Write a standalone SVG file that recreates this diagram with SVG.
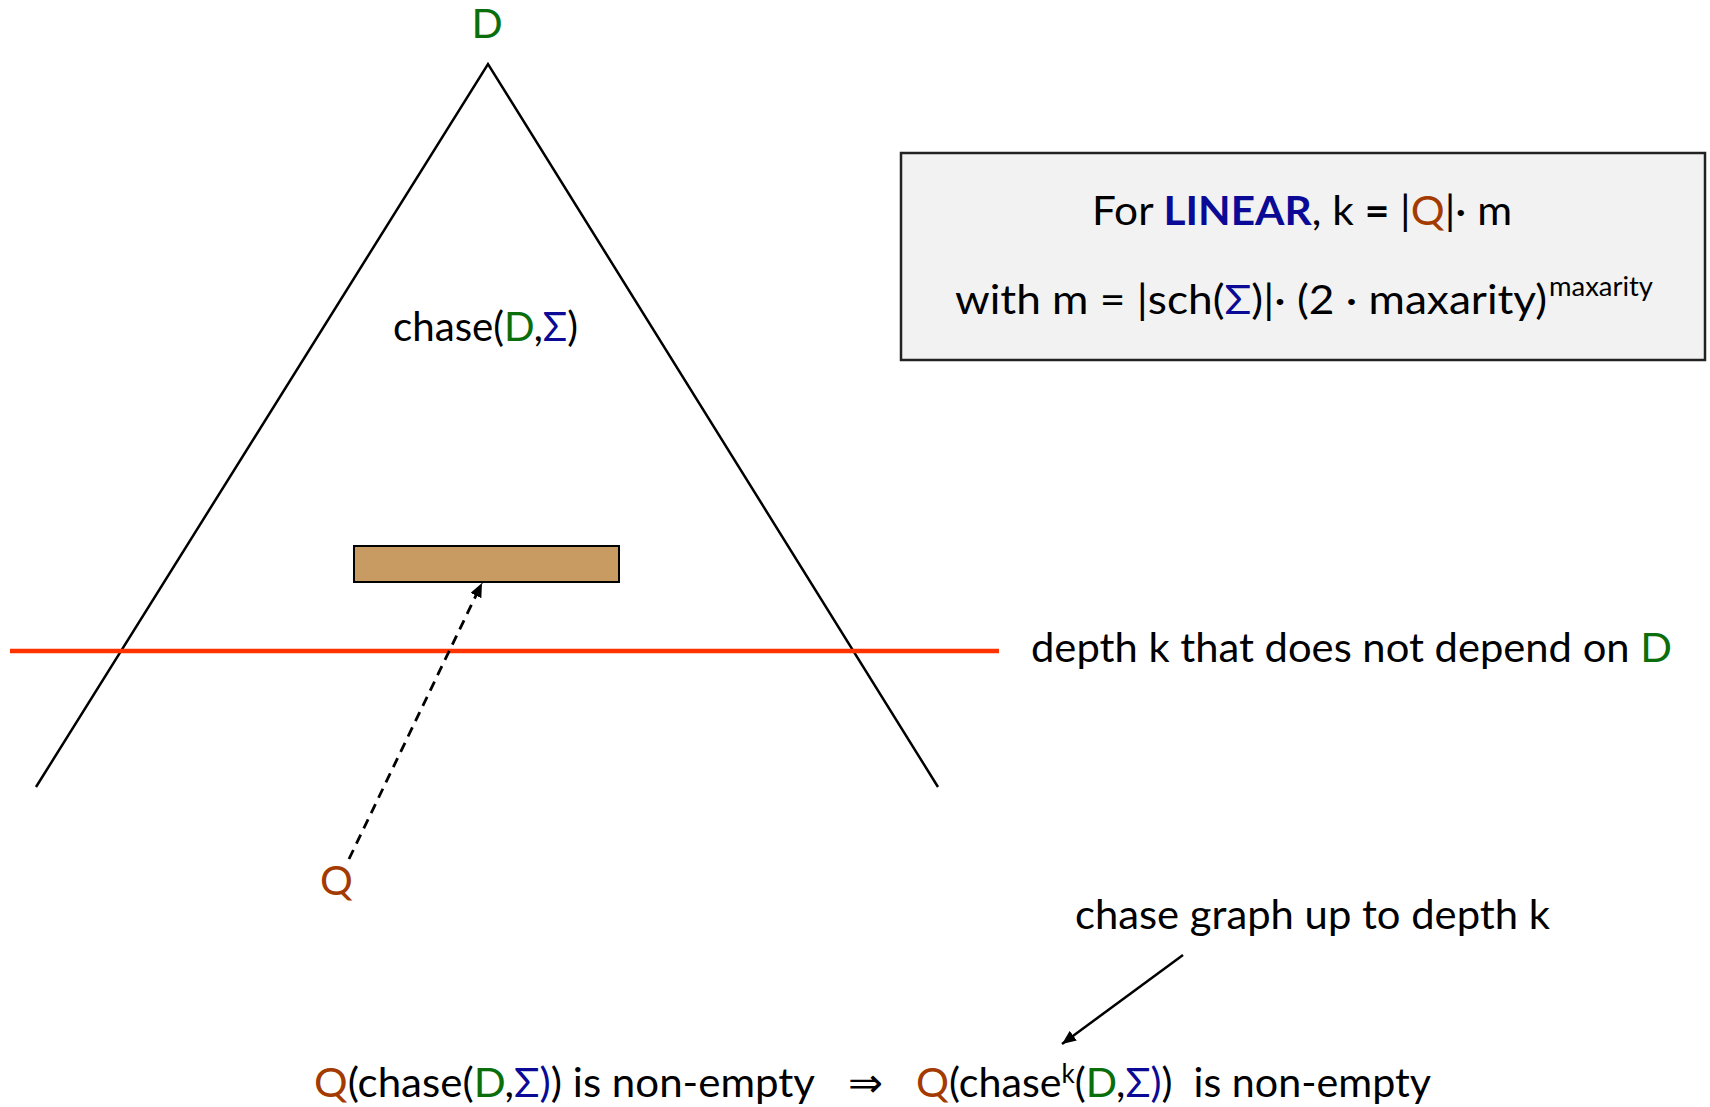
<svg xmlns="http://www.w3.org/2000/svg" width="1710" height="1107" viewBox="0 0 1710 1107">
<defs>
<style>
text{font-family:Lato,"Noto Sans","DejaVu Sans",sans-serif;font-size:41px;fill:#000}
.g{fill:#0a6e0a}.b{fill:#0a0a96}.q{fill:#a33b00}
.bold{font-weight:bold}
.sup{font-size:26px}
</style>
<marker id="ah" viewBox="0 0 14 12" refX="14" refY="6" markerWidth="14" markerHeight="12" markerUnits="userSpaceOnUse" orient="auto">
<path d="M0,0 L14,6 L0,12 Z" fill="#000"/>
</marker>
</defs>
<rect width="1710" height="1107" fill="#fff"/>

<g id="tree">
<polyline points="36,787 488,64 938,787" fill="none" stroke="#000" stroke-width="2.5"/>
<text id="label-D" x="487" y="38" text-anchor="middle" class="g">D</text>
<text id="label-chase" x="393" y="341" textLength="185" lengthAdjust="spacingAndGlyphs">chase(<tspan class="g">D</tspan>,<tspan class="b">Σ</tspan>)</text>
</g>

<g id="match">
<rect x="354" y="546" width="265" height="36" fill="#c89b62" stroke="#000" stroke-width="2"/>
</g>

<g id="depth-line">
<line x1="10" y1="651" x2="999" y2="651" stroke="#ff3300" stroke-width="4.5"/>
<text x="1031" y="662" textLength="641" lengthAdjust="spacingAndGlyphs">depth k that does not depend on <tspan class="g">D</tspan></text>
</g>

<g id="query">
<text x="320" y="895" class="q">Q</text>
</g>

<g id="info-box">
<rect x="901" y="153" width="804" height="207" fill="#f2f2f2" stroke="#222" stroke-width="2.5"/>
<text x="1092" y="225" textLength="420" lengthAdjust="spacingAndGlyphs">For <tspan class="b bold">LINEAR</tspan>, k <tspan class="bold">=</tspan> |<tspan class="q">Q</tspan>|· m</text>
<text x="955" y="314" textLength="592" lengthAdjust="spacingAndGlyphs">with m = |sch(<tspan class="b">Σ</tspan>)|· (2 · maxarity)</text>
<text x="1549" y="296" class="sup" textLength="104" lengthAdjust="spacingAndGlyphs">maxarity</text>
</g>

<g id="chase-graph-label">
<text x="1075" y="929" textLength="475" lengthAdjust="spacingAndGlyphs">chase graph up to depth k</text>
</g>

<g id="statement">
<text x="314" y="1097" textLength="501" lengthAdjust="spacingAndGlyphs"><tspan class="q">Q</tspan>(chase(<tspan class="g">D</tspan>,<tspan class="b">Σ)</tspan>) is non-empty</text>
<text x="848" y="1097" textLength="35" lengthAdjust="spacingAndGlyphs">⇒</text>
<text x="916" y="1097" textLength="515" lengthAdjust="spacingAndGlyphs"><tspan class="q">Q</tspan>(chase<tspan class="sup" dy="-14">k</tspan><tspan dy="14">(</tspan><tspan class="g">D</tspan>,<tspan class="b">Σ)</tspan>)&#160; is non-empty</text>
</g>

<g id="connectors">
<line x1="349" y1="859" x2="482" y2="583" stroke="#000" stroke-width="2.8" stroke-dasharray="10,7" marker-end="url(#ah)"/>
<line x1="1183" y1="955" x2="1062" y2="1044" stroke="#000" stroke-width="2.5" marker-end="url(#ah)"/>
</g>
</svg>
